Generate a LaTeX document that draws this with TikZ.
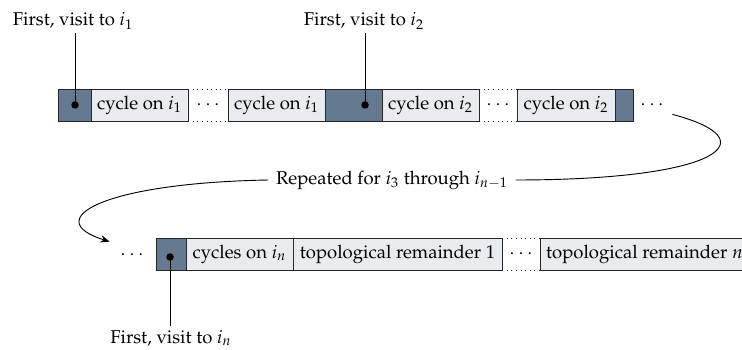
\documentclass[tikz,border=0pt]{standalone}
\usepackage[T1]{fontenc}
\usepackage{mathpazo}
\usetikzlibrary{arrows.meta}
\definecolor{visitfill}{HTML}{657A90}
\definecolor{cyclefill}{HTML}{E9ECEF}
\newcommand\pxu{0.54pt}

\begin{document}
\begin{tikzpicture}[x=0.54pt,y=-0.54pt,
  seg/.style={draw=black!85, line width=0.5pt, minimum height=32*\pxu,
              inner sep=0pt, outer sep=0pt, anchor=west},
  visit/.style={seg, fill=visitfill},
  cyc/.style={seg, fill=cyclefill},
  gap/.style={minimum height=32*\pxu, inner sep=0pt, outer sep=0pt, anchor=west},
  gapline/.style={draw=black!85, dotted, line width=0.5pt},
  pin/.style={circle, fill=black, inner sep=0pt, minimum size=7.5*\pxu},
  lbl/.style={inner sep=2pt},
  lead/.style={line width=0.5pt},
]
\useasboundingbox (0,0) rectangle (742,350);
\clip (0,0) rectangle (742,350);

% first row of the tour
\node[visit, minimum width=33*\pxu] (d1) at (58,105) {};
\node[cyc,   minimum width=97*\pxu] (c1) at (91,105) {cycle on $i_1$};
\node[gap,   minimum width=40*\pxu] (g1) at (188,105) {$\cdots$};
\node[cyc,   minimum width=97*\pxu] (c2) at (228,105) {cycle on $i_1$};
\node[visit, minimum width=57*\pxu] (d2) at (325,105) {};
\node[cyc,   minimum width=97*\pxu] (c3) at (382,105) {cycle on $i_2$};
\node[gap,   minimum width=38*\pxu] (g2) at (479,105) {$\cdots$};
\node[cyc,   minimum width=98*\pxu] (c4) at (517,105) {cycle on $i_2$};
\node[visit, minimum width=18*\pxu] (d3) at (615,105) {};
\node[minimum width=40*\pxu, minimum height=18*\pxu, inner sep=0pt] (tdots) at (652,105) {$\cdots$};

\foreach \g in {g1,g2}{
  \draw[gapline] (\g.north west) -- (\g.north east);
  \draw[gapline] (\g.south west) -- (\g.south east);
}

% second row of the tour
\node[minimum width=44*\pxu, minimum height=26*\pxu, inner sep=0pt] (bdots) at (132,255) {$\cdots$};
\node[visit, minimum width=30*\pxu]  (dn) at (156,254) {};
\node[cyc,   minimum width=107*\pxu] (cn) at (186,254) {cycles on $i_n$};
\node[cyc,   minimum width=209*\pxu] (t1) at (293,254) {topological remainder 1};
\node[gap,   minimum width=38*\pxu]  (g3) at (502,254) {$\cdots$};
\node[cyc,   minimum width=209*\pxu] (tn) at (540,254) {topological remainder $n$};
\draw[gapline] (g3.north west) -- (g3.north east);
\draw[gapline] (g3.south west) -- (g3.south east);

% first visits
\node[pin] (p1) at (75,105) {};
\node[pin] (p2) at (365,105) {};
\node[pin] (pn) at (170,257) {};

\node[lbl] (l1) at (73,21)  {First, visit to $i_1$};
\node[lbl] (l2) at (364,21) {First, visit to $i_2$};
\node[lbl] (ln) at (171,338) {First, visit to $i_n$};

\draw[lead] (l1.south -| p1) -- (p1.center);
\draw[lead] (l2.south -| p2) -- (p2.center);
\draw[lead] (pn.center) -- (ln.north -| pn);

% repetition for the middle indices
\node[inner sep=4pt] (rep) at (392,180) {Repeated for $i_3$ through $i_{n-1}$};
\draw[lead] (tdots.south east) .. controls (770,140) and (720,180) .. (rep.east);
\draw[lead, -{Stealth[length=5pt, width=4pt]}] (rep.west) .. controls (100,183) and (40,220) .. (bdots.north west);
\end{tikzpicture}
\end{document}
